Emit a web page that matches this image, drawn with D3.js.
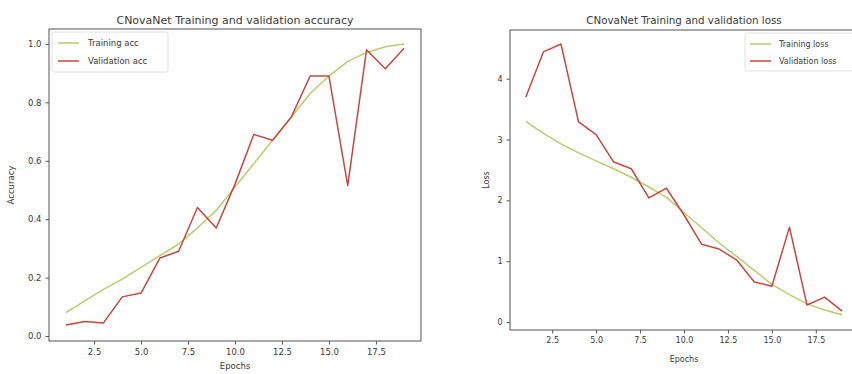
<!DOCTYPE html>
<html>
<head>
<meta charset="utf-8">
<script src="https://cdn.jsdelivr.net/npm/d3@7"></script>
<style>
  html, body { margin: 0; padding: 0; background: #fff; }
  svg { display: block; font-family: "DejaVu Sans", sans-serif; }
</style>
</head>
<body>
<svg id="chart" width="852" height="374"></svg>
<script>
// ---- data ----
const epochs = [1,2,3,4,5,6,7,8,9,10,11,12,13,14,15,16,17,18,19];
const trainAcc = [0.08,0.12,0.16,0.195,0.235,0.275,0.315,0.37,0.43,0.51,0.59,0.67,0.75,0.83,0.89,0.94,0.97,0.99,1.0];
const valAcc   = [0.038,0.05,0.045,0.134,0.147,0.267,0.29,0.44,0.37,0.52,0.69,0.67,0.75,0.89,0.89,0.515,0.98,0.915,0.985];
const trainLoss = [3.30,3.10,2.93,2.78,2.65,2.52,2.38,2.22,2.05,1.80,1.55,1.30,1.08,0.85,0.62,0.45,0.30,0.20,0.12];
const valLoss   = [3.70,4.44,4.57,3.29,3.08,2.63,2.52,2.04,2.20,1.76,1.28,1.20,1.02,0.66,0.59,1.56,0.28,0.41,0.18];
const xTicks = [2.5,5.0,7.5,10.0,12.5,15.0,17.5];
const accTicks = [0.0,0.2,0.4,0.6,0.8,1.0];
const lossTicks = [0,1,2,3,4];
const accLegend = ["Training acc","Validation acc"];
const lossLegend = ["Training loss","Validation loss"];
const titles = ["CNovaNet Training and validation accuracy","CNovaNet Training and validation loss"];

const trainColor = "#b9cc6e";
const valColor = "#c9473f";
const textColor = "#3a3a3a";
const spineColor = "#555";

const svg = d3.select("#chart");

function panel(cfg) {
  const g = svg.append("g");
  const x = d3.scaleLinear().domain([0.1, 19.9]).range([cfg.x0, cfg.x1]);
  const y = d3.scaleLinear().domain(cfg.yDomain).range([cfg.y1, cfg.y0]);

  const xa = g.append("g").attr("transform", `translate(0,${cfg.y1})`)
    .call(d3.axisBottom(x).tickValues(xTicks).tickFormat(d3.format(".1f")).tickSizeOuter(0).tickSize(3.5).tickPadding(4));
  const ya = g.append("g").attr("transform", `translate(${cfg.x0},0)`)
    .call(d3.axisLeft(y).tickValues(cfg.yTicks).tickFormat(cfg.yFmt).tickSizeOuter(0).tickSize(3.5).tickPadding(4));
  [xa, ya].forEach(a => {
    a.select(".domain").remove();
    a.selectAll(".tick line").attr("stroke", spineColor);
    a.selectAll(".tick text").attr("fill", textColor).attr("font-size", cfg.fs).attr("font-family", "DejaVu Sans");
  });

  g.append("rect").attr("x", cfg.x0).attr("y", cfg.y0)
    .attr("width", cfg.x1 - cfg.x0).attr("height", cfg.y1 - cfg.y0)
    .attr("fill", "none").attr("stroke", spineColor).attr("stroke-width", 1);

  const line = d3.line().x((d, i) => x(epochs[i])).y(d => y(d));
  const clipId = "clip" + cfg.id;
  g.append("clipPath").attr("id", clipId).append("rect")
    .attr("x", cfg.x0).attr("y", cfg.y0).attr("width", cfg.x1 - cfg.x0).attr("height", cfg.y1 - cfg.y0);
  const lg = g.append("g").attr("clip-path", `url(#${clipId})`);
  lg.append("path").datum(cfg.train).attr("d", line).attr("fill", "none")
    .attr("stroke", trainColor).attr("stroke-width", 1.5).attr("stroke-linejoin", "round");
  lg.append("path").datum(cfg.val).attr("d", line).attr("fill", "none")
    .attr("stroke", valColor).attr("stroke-width", 1.5).attr("stroke-linejoin", "round");

  g.append("text").attr("x", (cfg.x0 + cfg.x1) / 2).attr("y", cfg.titleY)
    .attr("text-anchor", "middle").attr("fill", textColor).attr("font-size", cfg.tfs)
    .text(cfg.title);
  g.append("text").attr("x", (cfg.x0 + cfg.x1) / 2).attr("y", cfg.xlabY)
    .attr("text-anchor", "middle").attr("fill", textColor).attr("font-size", cfg.fs)
    .text("Epochs");
  g.append("text").attr("transform", `translate(${cfg.ylabX},${(cfg.y0 + cfg.y1) / 2}) rotate(-90)`)
    .attr("text-anchor", "middle").attr("fill", textColor).attr("font-size", cfg.fs)
    .text(cfg.ylab);

  const L = cfg.legend;
  g.append("rect").attr("x", L.x).attr("y", L.y).attr("width", L.w).attr("height", L.h)
    .attr("rx", 2.5).attr("fill", "#fff").attr("fill-opacity", 0.85)
    .attr("stroke", "#d8d8d8").attr("stroke-width", 0.8);
  [trainColor, valColor].forEach((c, i) => {
    const yy = L.y + L.row0 + i * L.dy;
    g.append("line").attr("x1", L.x + L.lx0).attr("x2", L.x + L.lx1).attr("y1", yy).attr("y2", yy)
      .attr("stroke", c).attr("stroke-width", 1.5);
    g.append("text").attr("x", L.x + L.tx).attr("y", yy).attr("dy", "0.35em")
      .attr("fill", textColor).attr("font-size", cfg.lfs).text(cfg.labels[i]);
  });
}

panel({
  id: "acc", x0: 49, x1: 421, y0: 29, y1: 341,
  yDomain: [-0.017, 1.051], yTicks: accTicks, yFmt: d3.format(".1f"),
  train: trainAcc, val: valAcc, title: titles[0], ylab: "Accuracy",
  titleY: 24, xlabY: 369, ylabX: 14, fs: 8.5, tfs: 11, lfs: 8.5,
  labels: accLegend,
  legend: { x: 52, y: 32, w: 116, h: 40, row0: 11, dy: 18, lx0: 6, lx1: 27, tx: 36 }
});

panel({
  id: "loss", x0: 510, x1: 858, y0: 30, y1: 330,
  yDomain: [-0.13, 4.80], yTicks: lossTicks, yFmt: d3.format("d"),
  train: trainLoss, val: valLoss, title: titles[1], ylab: "Loss",
  titleY: 24, xlabY: 362, ylabX: 489, fs: 8, tfs: 10.3, lfs: 8,
  labels: lossLegend,
  legend: { x: 745, y: 33, w: 110, h: 38, row0: 11, dy: 17, lx0: 5, lx1: 26, tx: 34 }
});
</script>
</body>
</html>
